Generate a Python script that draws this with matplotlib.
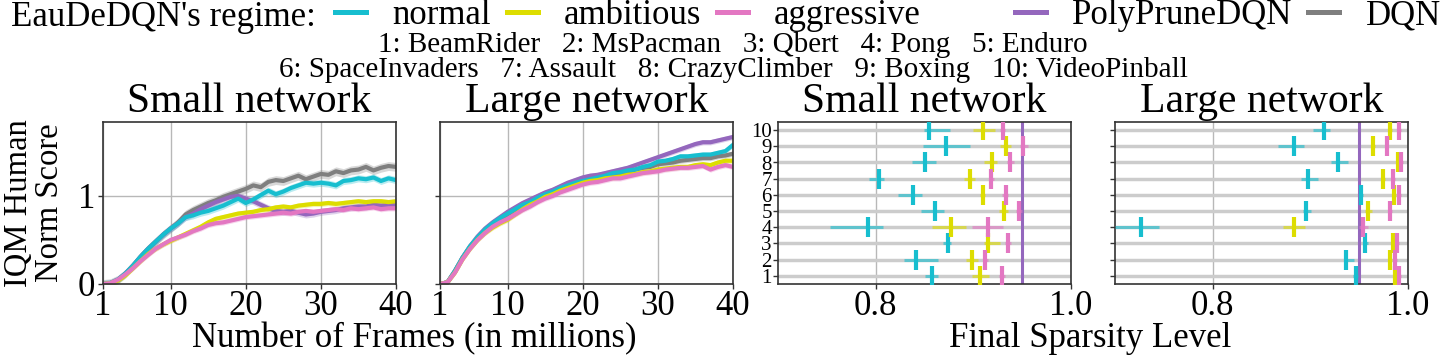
import numpy as np
import matplotlib
matplotlib.use('Agg')
import matplotlib.pyplot as plt
from matplotlib.lines import Line2D
from matplotlib.colors import to_rgba

plt.rcParams['font.family'] = ['Liberation Serif', 'DejaVu Serif']

#--------------------------------------------------------------------------------------------------
# Data
#--------------------------------------------------------------------------------------------------
frames = np.arange(1, 41)

# Small network, IQM human normalised score
small_dqn = [0.0, 0.01, 0.05, 0.12, 0.21, 0.31, 0.40, 0.48, 0.56, 0.63, 0.70, 0.79, 0.84, 0.88, 0.92,
             0.95, 0.99, 1.02, 1.05, 1.08, 1.12, 1.10, 1.16, 1.18, 1.17, 1.20, 1.23, 1.19, 1.22, 1.25,
             1.24, 1.28, 1.26, 1.29, 1.30, 1.33, 1.29, 1.32, 1.34, 1.33]
small_polyprune = [0.0, 0.01, 0.05, 0.12, 0.21, 0.31, 0.40, 0.48, 0.56, 0.63, 0.69, 0.76, 0.80, 0.85,
                   0.89, 0.93, 0.96, 0.99, 1.00, 0.97, 0.94, 0.90, 0.86, 0.83, 0.82, 0.83, 0.81, 0.79,
                   0.80, 0.82, 0.83, 0.84, 0.86, 0.87, 0.88, 0.88, 0.90, 0.89, 0.90, 0.90]
small_normal = [0.0, 0.01, 0.05, 0.12, 0.21, 0.31, 0.40, 0.48, 0.56, 0.63, 0.69, 0.76, 0.78, 0.81, 0.83,
                0.86, 0.89, 0.93, 0.97, 0.92, 0.96, 1.01, 1.06, 1.02, 1.05, 1.09, 1.12, 1.15, 1.14, 1.15,
                1.14, 1.12, 1.17, 1.18, 1.20, 1.19, 1.21, 1.17, 1.20, 1.18]
small_ambitious = [0.0, 0.01, 0.04, 0.10, 0.18, 0.26, 0.34, 0.40, 0.45, 0.49, 0.53, 0.57, 0.61, 0.65,
                   0.70, 0.74, 0.76, 0.78, 0.80, 0.81, 0.82, 0.84, 0.85, 0.87, 0.88, 0.87, 0.89, 0.90,
                   0.91, 0.91, 0.92, 0.91, 0.92, 0.93, 0.94, 0.93, 0.94, 0.94, 0.93, 0.94]
small_aggressive = [0.0, 0.01, 0.05, 0.11, 0.18, 0.26, 0.33, 0.40, 0.45, 0.50, 0.53, 0.56, 0.60, 0.63,
                    0.67, 0.69, 0.70, 0.72, 0.74, 0.76, 0.77, 0.78, 0.79, 0.80, 0.81, 0.80, 0.82, 0.83,
                    0.82, 0.83, 0.84, 0.85, 0.84, 0.86, 0.85, 0.86, 0.87, 0.85, 0.86, 0.86]

# Large network, IQM human normalised score
large_dqn = [0.0, 0.02, 0.15, 0.30, 0.42, 0.52, 0.61, 0.68, 0.74, 0.79, 0.84, 0.89, 0.93, 0.97, 1.01,
             1.04, 1.08, 1.11, 1.14, 1.17, 1.19, 1.21, 1.22, 1.24, 1.26, 1.27, 1.30, 1.32, 1.33, 1.36,
             1.37, 1.38, 1.40, 1.41, 1.42, 1.43, 1.43, 1.45, 1.46, 1.48]
large_polyprune = [0.0, 0.02, 0.15, 0.30, 0.43, 0.54, 0.63, 0.70, 0.76, 0.82, 0.87, 0.92, 0.96, 1.00,
                   1.04, 1.07, 1.11, 1.15, 1.18, 1.21, 1.23, 1.24, 1.26, 1.28, 1.30, 1.32, 1.35, 1.38,
                   1.41, 1.44, 1.47, 1.50, 1.53, 1.56, 1.59, 1.61, 1.61, 1.63, 1.65, 1.67]
large_normal = [0.0, 0.02, 0.15, 0.30, 0.43, 0.53, 0.62, 0.69, 0.75, 0.80, 0.85, 0.90, 0.93, 0.98, 1.02,
                1.05, 1.09, 1.12, 1.15, 1.17, 1.19, 1.21, 1.23, 1.26, 1.27, 1.29, 1.30, 1.33, 1.35, 1.39,
                1.40, 1.42, 1.45, 1.45, 1.46, 1.47, 1.47, 1.49, 1.51, 1.58]
large_ambitious = [0.0, 0.02, 0.13, 0.28, 0.40, 0.50, 0.58, 0.64, 0.69, 0.73, 0.79, 0.85, 0.90, 0.94,
                   0.99, 1.02, 1.06, 1.09, 1.12, 1.15, 1.17, 1.18, 1.20, 1.21, 1.22, 1.24, 1.25, 1.27,
                   1.28, 1.30, 1.31, 1.32, 1.33, 1.33, 1.35, 1.36, 1.35, 1.38, 1.40, 1.40]
large_aggressive = [0.0, 0.02, 0.13, 0.28, 0.40, 0.50, 0.58, 0.65, 0.70, 0.74, 0.79, 0.84, 0.88, 0.93,
                    0.97, 1.00, 1.04, 1.07, 1.10, 1.13, 1.15, 1.16, 1.18, 1.20, 1.20, 1.22, 1.24, 1.26,
                    1.27, 1.28, 1.30, 1.31, 1.32, 1.32, 1.33, 1.34, 1.30, 1.33, 1.35, 1.33]

# half width of the shaded confidence band, per series
small_band = {'dqn': 0.05, 'polyprune': 0.04, 'normal': 0.04, 'ambitious': 0.03, 'aggressive': 0.03}
large_band = {'dqn': 0.03, 'polyprune': 0.03, 'normal': 0.03, 'ambitious': 0.03, 'aggressive': 0.03}

# Final sparsity per game (games 1..10): value, lower CI, upper CI
games = ['BeamRider', 'MsPacman', 'Qbert', 'Pong', 'Enduro',
         'SpaceInvaders', 'Assault', 'CrazyClimber', 'Boxing', 'VideoPinball']
game_ids = np.arange(1, 11)

small_sp_normal = [0.858, 0.841, 0.874, 0.792, 0.861, 0.838, 0.803, 0.851, 0.872, 0.855]
small_sp_normal_lo = [0.851, 0.829, 0.869, 0.753, 0.846, 0.823, 0.793, 0.837, 0.848, 0.849]
small_sp_normal_hi = [0.864, 0.864, 0.877, 0.808, 0.870, 0.847, 0.809, 0.862, 0.897, 0.876]
small_sp_ambitious = [0.907, 0.899, 0.915, 0.877, 0.931, 0.910, 0.897, 0.919, 0.933, 0.910]
small_sp_ambitious_lo = [0.899, 0.892, 0.911, 0.858, 0.926, 0.907, 0.890, 0.911, 0.927, 0.900]
small_sp_ambitious_hi = [0.916, 0.905, 0.927, 0.892, 0.936, 0.912, 0.902, 0.924, 0.939, 0.922]
small_sp_aggressive = [0.929, 0.912, 0.935, 0.915, 0.947, 0.933, 0.918, 0.938, 0.951, 0.930]
small_sp_aggressive_lo = [0.926, 0.910, 0.932, 0.899, 0.944, 0.929, 0.916, 0.934, 0.948, 0.927]
small_sp_aggressive_hi = [0.932, 0.915, 0.939, 0.930, 0.950, 0.935, 0.921, 0.942, 0.956, 0.932]

large_sp_normal = [0.947, 0.937, 0.956, 0.727, 0.896, 0.952, 0.898, 0.928, 0.883, 0.914]
large_sp_normal_lo = [0.944, 0.934, 0.954, 0.700, 0.892, 0.950, 0.890, 0.921, 0.867, 0.903]
large_sp_normal_hi = [0.949, 0.945, 0.959, 0.745, 0.901, 0.954, 0.908, 0.939, 0.894, 0.920]
large_sp_ambitious = [0.987, 0.982, 0.985, 0.883, 0.959, 0.986, 0.974, 0.990, 0.964, 0.982]
large_sp_ambitious_lo = [0.985, 0.980, 0.983, 0.872, 0.956, 0.984, 0.972, 0.988, 0.962, 0.980]
large_sp_ambitious_hi = [0.989, 0.984, 0.987, 0.895, 0.963, 0.988, 0.976, 0.992, 0.966, 0.984]
large_sp_aggressive = [0.991, 0.987, 0.989, 0.954, 0.982, 0.991, 0.985, 0.993, 0.978, 0.991]
large_sp_aggressive_lo = [0.989, 0.985, 0.987, 0.950, 0.980, 0.989, 0.983, 0.991, 0.976, 0.989]
large_sp_aggressive_hi = [0.993, 0.989, 0.991, 0.959, 0.984, 0.993, 0.987, 0.995, 0.980, 0.993]

polyprune_sparsity = 0.95

colors = {'normal': '#17becf', 'ambitious': '#dddd00', 'aggressive': '#e377c2',
          'polyprune': '#9467bd', 'dqn': '#7f7f7f'}

#--------------------------------------------------------------------------------------------------
# Figure layout (pixel boxes converted to figure fractions)
#--------------------------------------------------------------------------------------------------
W, H = 1446, 357
fig = plt.figure(figsize=(W / 100, H / 100), dpi=100)

def box(left, top, width, height):
    return [left / W, 1 - (top + height) / H, width / W, height / H]

axes = [fig.add_axes(box(l, 122, 293, 162)) for l in (103, 440, 778, 1115)]

tick_fs = 25
for ax in axes:
    for sp in ax.spines.values():
        sp.set_color('#333333')
        sp.set_linewidth(1.2)
    ax.tick_params(direction='out', length=3.5, width=1, color='#333333', labelsize=tick_fs)
    ax.set_axisbelow(True)

# ---- IQM curves
curves = [
    (axes[0], 'Small network',
     [('dqn', small_dqn), ('polyprune', small_polyprune), ('normal', small_normal),
      ('ambitious', small_ambitious), ('aggressive', small_aggressive)], small_band),
    (axes[1], 'Large network',
     [('dqn', large_dqn), ('polyprune', large_polyprune), ('normal', large_normal),
      ('ambitious', large_ambitious), ('aggressive', large_aggressive)], large_band),
]
for ax, title, series, band in curves:
    for key, vals in series:
        vals = np.array(vals)
        ax.fill_between(frames, vals - band[key], vals + band[key], color=colors[key], alpha=0.3, lw=0)
        ax.plot(frames, vals, color=colors[key], lw=3)
    ax.set_xlim(1, 40)
    ax.set_ylim(0, 1.84)
    ax.set_xticks([1, 10, 20, 30, 40])
    ax.set_yticks([0, 1])
    ax.grid(True, color='#b8b8b8', lw=1)
    ax.set_title(title, fontsize=30, pad=7)
    ax.tick_params(axis='x', pad=0.5)
    ax.tick_params(axis='y', pad=2)
axes[1].tick_params(axis='y', labelleft=False)

# ---- final sparsity per game
ranks = [
    (axes[2], 'Small network',
     [('normal', small_sp_normal, small_sp_normal_lo, small_sp_normal_hi),
      ('ambitious', small_sp_ambitious, small_sp_ambitious_lo, small_sp_ambitious_hi),
      ('aggressive', small_sp_aggressive, small_sp_aggressive_lo, small_sp_aggressive_hi)]),
    (axes[3], 'Large network',
     [('normal', large_sp_normal, large_sp_normal_lo, large_sp_normal_hi),
      ('ambitious', large_sp_ambitious, large_sp_ambitious_lo, large_sp_ambitious_hi),
      ('aggressive', large_sp_aggressive, large_sp_aggressive_lo, large_sp_aggressive_hi)]),
]
for ax, title, series in ranks:
    ax.axvline(polyprune_sparsity, color=colors['polyprune'], lw=2.2, zorder=2)
    for key, vals, lo, hi in series:
        vals, lo, hi = np.array(vals), np.array(lo), np.array(hi)
        ax.errorbar(vals, game_ids, xerr=[vals - lo, hi - vals], fmt='|', color=colors[key],
                    ms=15, mew=3, ecolor=to_rgba(colors[key], 0.6), elinewidth=2.2, capsize=0,
                    zorder=3)
    ax.set_xlim(0.7, 1.0)
    ax.set_ylim(0.5, 10.5)
    ax.set_xticks([0.8, 1.0])
    ax.set_xticklabels(['0.8', '1.0'])
    ax.set_yticks(game_ids)
    ax.grid(axis='y', color='#cccccc', lw=2.5)
    ax.grid(axis='x', color='#b8b8b8', lw=1)
    ax.set_title(title, fontsize=30, pad=7)
    ax.tick_params(axis='x', pad=0.5)
    ax.tick_params(axis='y', labelsize=15, pad=1)
axes[3].tick_params(axis='y', labelleft=False)

# ---- axis labels
fig.text(34 / W, 1 - 203 / H, 'IQM Human\nNorm Score', rotation=90, ha='center', va='center',
         fontsize=23.5, linespacing=1.0)
fig.text(414 / W, 1 - 347 / H, 'Number of Frames (in millions)', ha='center', va='baseline',
         fontsize=25)
fig.text(1090 / W, 1 - 347 / H, 'Final Sparsity Level', ha='center', va='baseline', fontsize=25)

# ---- legends
fig.text(11 / W, 1 - 26 / H, "EauDeDQN's regime:", ha='left', va='baseline', fontsize=25)
leg_kw = dict(loc='center left', frameon=False, fontsize=25, handlelength=0.9, handletextpad=0.75,
              columnspacing=0.45, borderpad=0, borderaxespad=0)
h1 = [Line2D([], [], color=colors[k], lw=3.6) for k in ('normal', 'ambitious', 'aggressive')]
fig.legend(h1, ['normal', 'ambitious', 'aggressive'], ncol=3,
           bbox_to_anchor=(335 / W, 1 - 16 / H), **leg_kw)
h2 = [Line2D([], [], color=colors[k], lw=3.6) for k in ('polyprune', 'dqn')]
fig.legend(h2, ['PolyPruneDQN', 'DQN'], ncol=2, bbox_to_anchor=(1015 / W, 1 - 16 / H), **leg_kw)

sep = '   '
row1 = sep.join('%d: %s' % (i, g) for i, g in zip(game_ids[:5], games[:5]))
row2 = sep.join('%d: %s' % (i, g) for i, g in zip(game_ids[5:], games[5:]))
fig.text(733 / W, 1 - 52 / H, row1, ha='center', va='baseline', fontsize=21)
fig.text(733 / W, 1 - 77 / H, row2, ha='center', va='baseline', fontsize=21)

fig.savefig('out.png', dpi=100)
